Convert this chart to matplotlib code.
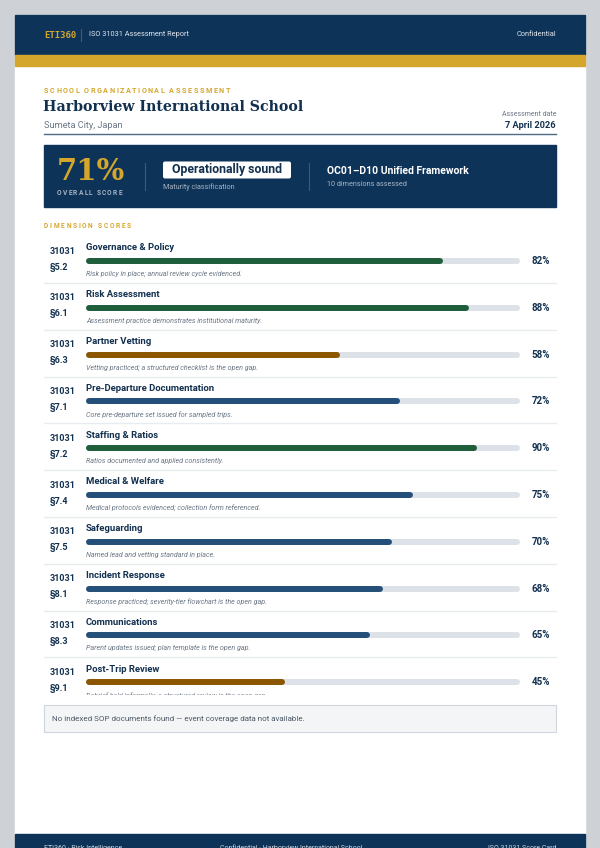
import matplotlib
matplotlib.use("Agg")
import matplotlib.pyplot as plt
from matplotlib.patches import Rectangle, FancyBboxPatch

plt.rcParams['font.family'] = ['Roboto', 'DejaVu Sans']

# report data
school = "Harborview International School"
location = "Sumeta City, Japan"
assess_date = "7 April 2026"
maturity = "Operationally sound"
framework = "OC01\u2013D10 Unified Framework"

standard = "31031"
clauses = ["\u00a75.2", "\u00a76.1", "\u00a76.3", "\u00a77.1", "\u00a77.2",
           "\u00a77.4", "\u00a77.5", "\u00a78.1", "\u00a78.3", "\u00a79.1"]
dimensions = ["Governance & Policy", "Risk Assessment", "Partner Vetting",
              "Pre-Departure Documentation", "Staffing & Ratios", "Medical & Welfare",
              "Safeguarding", "Incident Response", "Communications", "Post-Trip Review"]
scores = [82, 88, 58, 72, 90, 75, 70, 68, 65, 45]
notes = ["Risk policy in place; annual review cycle evidenced.",
         "Assessment practice demonstrates institutional maturity.",
         "Vetting practiced; a structured checklist is the open gap.",
         "Core pre-departure set issued for sampled trips.",
         "Ratios documented and applied consistently.",
         "Medical protocols evidenced; collection form referenced.",
         "Named lead and vetting standard in place.",
         "Response practiced; severity-tier flowchart is the open gap.",
         "Parent updates issued; plan template is the open gap.",
         "Debrief held informally; a structured review is the open gap."]

NAVY = "#0e3358"
GOLD = "#d4a72c"
INK = "#12304f"
GREY = "#6b7785"
TRACK = "#dde2e8"
SEP = "#e8ebef"


def bar_color(v):
    if v >= 80:
        return "#1e5e3b"
    if v >= 60:
        return "#244f78"
    return "#8a5600"


W, H = 600, 848
fig = plt.figure(figsize=(W / 100, H / 100), dpi=100, facecolor="#ced2d7")
ax = fig.add_axes([0, 0, 1, 1])
ax.set_xlim(0, W)
ax.set_ylim(H, 0)
ax.axis('off')
renderer = fig.canvas.get_renderer()


def text_width(s, **kw):
    t = ax.text(0, 0, s.replace(" ", "\u00a0") + "|", **kw)
    w = t.get_window_extent(renderer=renderer).width
    t.remove()
    t = ax.text(0, 0, "|", **kw)
    w -= t.get_window_extent(renderer=renderer).width
    t.remove()
    return w


def spaced(x, y, s, track, **kw):
    for k, ch in enumerate(s):
        if ch == " ":
            continue
        ax.text(x + text_width(s[:k], **kw) + k * track, y, ch, **kw)


# page + header
ax.add_patch(Rectangle((15, 15), 570, 840, color="white", zorder=0))
ax.add_patch(Rectangle((15, 15), 570, 40, color=NAVY, zorder=1))
ax.add_patch(Rectangle((15, 55), 570, 11, color=GOLD, zorder=1))
ax.text(44, 35, "ETI360", color=GOLD, fontsize=6.5, fontweight='bold',
        family='DejaVu Sans Mono', va='center')
ax.plot([81, 81], [29, 41], color="#3d5a7a", lw=0.8)
ax.text(89, 35, "ISO 31031 Assessment Report", color="#dfe6ee", fontsize=5.3, va='center')
ax.text(556, 35, "Confidential", color="#dfe6ee", fontsize=5.3, va='center', ha='right')

# title block
spaced(44, 91, "SCHOOL ORGANIZATIONAL ASSESSMENT", 1.5, color=GOLD, fontsize=5.2,
       fontweight='bold', va='center')
ax.text(43, 107, school, color=INK, fontsize=10.2, fontweight='bold',
        family='DejaVu Serif', va='center')
ax.text(44, 125, location, color=GREY, fontsize=6.6, va='center')
ax.text(556, 114, "Assessment date", color=GREY, fontsize=5, va='center', ha='right')
ax.text(556, 125, assess_date, color=INK, fontsize=6.6, fontweight='bold', va='center', ha='right')
ax.plot([44, 556], [134, 134], color="#4d6a86", lw=1)

# score panel
overall = round(sum(scores) / len(scores))
ax.add_patch(Rectangle((44, 145), 512, 62, color=NAVY, zorder=1))
ax.text(57, 171, f"{overall}%", color=GOLD, fontsize=21, fontweight='bold',
        family='DejaVu Serif', va='center')
spaced(57, 193, "OVERALL SCORE", 1.2, color="#a7b4c3", fontsize=4.8, fontweight='bold', va='center')
ax.plot([145, 145], [163, 190], color="#3d5a7a", lw=0.8, zorder=2)
ax.add_patch(FancyBboxPatch((163, 161.5), 128, 17, boxstyle="round,pad=0,rounding_size=2",
                            fc="white", ec="none", zorder=2))
ax.text(227, 170, maturity, color=INK, fontsize=8.8, fontweight='bold',
        va='center', ha='center', zorder=3)
ax.text(163, 187.5, "Maturity classification", color="#a7b4c3", fontsize=5.2, va='center')
ax.plot([309, 309], [163, 190], color="#3d5a7a", lw=0.8, zorder=2)
ax.text(327, 171.5, framework, color="white", fontsize=7.5, fontweight='bold', va='center')
ax.text(327, 184, f"{len(scores)} dimensions assessed", color="#a7b4c3", fontsize=5.2, va='center')

# dimension rows
spaced(44, 226, "DIMENSION SCORES", 1.7, color=GOLD, fontsize=4.8, fontweight='bold', va='center')
pitch = 46.8
top = 248
for i, (cl, dim, v, note) in enumerate(zip(clauses, dimensions, scores, notes)):
    y = top + pitch * i
    ax.text(50, y + 3, standard, color=INK, fontsize=6.5, fontweight='bold', va='center')
    ax.text(50, y + 19, cl, color=INK, fontsize=6.5, fontweight='bold', va='center')
    ax.text(86, y, dim, color=INK, fontsize=6.8, fontweight='bold', va='center')
    ax.text(550, y + 13, f"{v}%", color=INK, fontsize=7, fontweight='bold', va='center', ha='right')
    ax.text(86, y + 26, note, color=GREY, fontsize=5.1, style='italic', va='center')
    if i < len(scores) - 1:
        ax.plot([44, 556], [y + 35, y + 35], color=SEP, lw=1)

# last caption is cut off by the row box
ax.add_patch(Rectangle((40, 695), 520, 10, color="white", zorder=5))

# bars on their own axes (0-100 scale)
bar_top = 261 - pitch / 2
bar_h = pitch * len(scores)
bx = fig.add_axes([86 / W, 1 - (bar_top + bar_h) / H, 434 / W, bar_h / H])
bx.set_xlim(-0.7, 100.7)
bx.set_ylim(len(scores) - 0.5, -0.5)
bx.axis('off')
bx.patch.set_alpha(0)
for i, v in enumerate(scores):
    bx.plot([0, 100], [i, i], color=TRACK, lw=4.3, solid_capstyle='round', clip_on=False)
    bx.plot([0, v], [i, i], color=bar_color(v), lw=4.3, solid_capstyle='round', clip_on=False)

# notice box
ax.add_patch(Rectangle((44, 705), 512, 27, fc="#f3f5f7", ec="#cfd5dc", lw=0.8, zorder=6))
ax.text(52, 719, "No indexed SOP documents found \u2014 event coverage data not available.",
        color="#4d5966", fontsize=5.8, va='center', zorder=7)

# footer (runs off the bottom of the page)
ax.add_patch(Rectangle((15, 834), 570, 20, color=NAVY, zorder=1))
ax.text(44, 849, "ETI360 \u00b7 Risk Intelligence", color="#c9d3de", fontsize=5, va='center', zorder=2)
ax.text(220, 849, "Confidential \u00b7 Harborview International School", color="#c9d3de",
        fontsize=5, va='center', zorder=2)
ax.text(556, 849, "ISO 31031 Score Card", color="#c9d3de", fontsize=5, va='center',
        ha='right', zorder=2)

fig.savefig("out.png", dpi=100, facecolor=fig.get_facecolor())
